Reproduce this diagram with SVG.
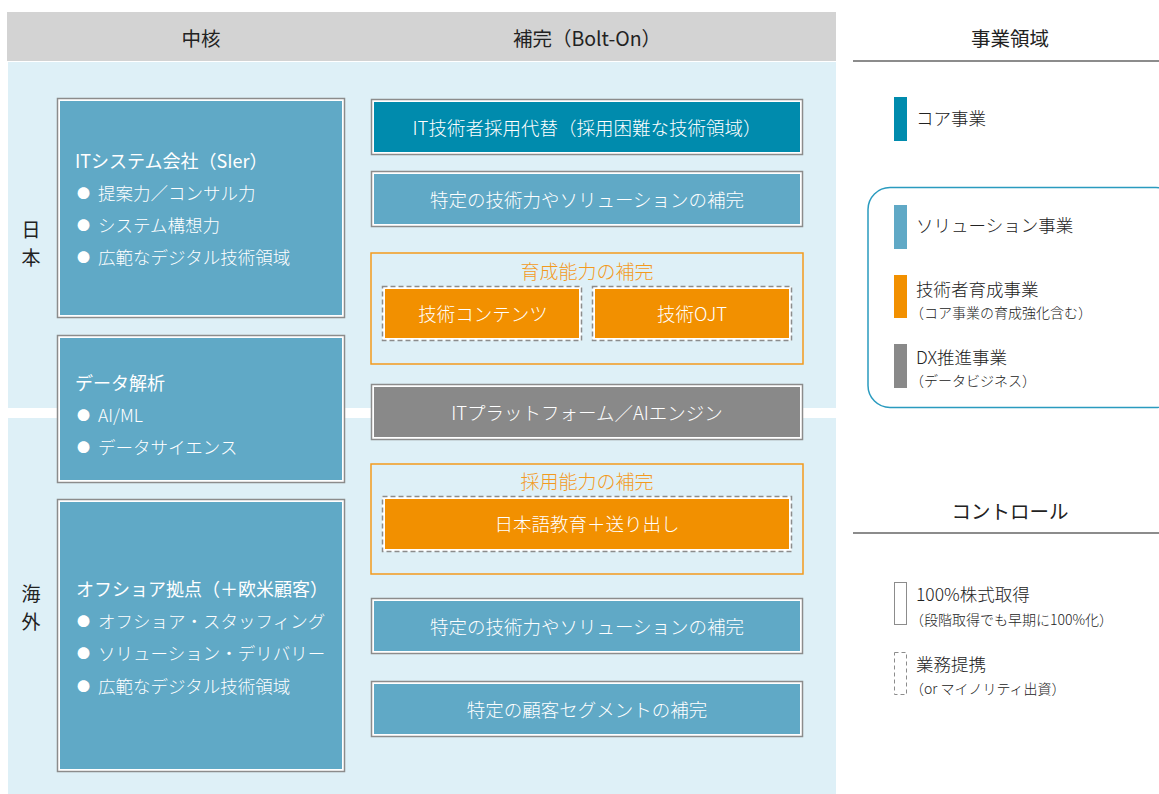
<svg xmlns="http://www.w3.org/2000/svg" width="1159" height="794" viewBox="0 0 1159 794">
<style>
text{font-family:"Noto Sans CJK JP","Noto Sans",sans-serif;dominant-baseline:central;font-weight:300}
.hd{font-size:19.5px;fill:#222;text-anchor:middle;font-weight:400}
.frame{fill:#fff;stroke:#8c8c8c;stroke-width:1.5}
.dframe{fill:#fff;stroke:#8c8c8c;stroke-width:1.5;stroke-dasharray:5 3}
.core{fill:#008bad}
.sol{fill:#60a9c6}
.ora{fill:#f29000}
.gry{fill:#898989}
.bt{font-size:18.5px;fill:#fff;text-anchor:middle}
.lt{font-size:17.5px;fill:#fff}
.bu{font-size:13px}
.ltt{font-size:18px;fill:#fff;font-weight:400}
.grp{fill:none;stroke:#f39a1e;stroke-width:1.5}
.gt{font-size:19px;fill:#f39a1e;text-anchor:middle}
.side{font-size:19px;fill:#222;text-anchor:middle;font-weight:400}
.lg{font-size:17.5px;fill:#222}
.lgs{font-size:14px;fill:#222}
</style>
<rect x="0" y="0" width="1159" height="794" fill="#fff"/>
<!-- backgrounds -->
<rect x="7" y="12" width="829" height="49" fill="#d3d3d3"/>
<rect x="8" y="62" width="828" height="346" fill="#def0f7"/>
<rect x="8" y="418" width="828" height="376" fill="#def0f7"/>
<text class="hd" x="201" y="37">中核</text>
<text class="hd" x="587" y="37">補完（Bolt-On）</text>
<text class="side" x="31" y="228">日</text>
<text class="side" x="31" y="256">本</text>
<text class="side" x="31" y="592">海</text>
<text class="side" x="31" y="620">外</text>

<g id="node-sier">
<rect class="frame" x="57.5" y="98.5" width="287" height="219"/>
<rect class="sol" x="60" y="101" width="282" height="214"/>
<text class="ltt" x="75" y="160">ITシステム会社（SIer）</text>
<text class="lt" x="77" y="192"><tspan class="bu">●</tspan><tspan dx="8">提案力／コンサル力</tspan></text>
<text class="lt" x="77" y="224"><tspan class="bu">●</tspan><tspan dx="8">システム構想力</tspan></text>
<text class="lt" x="77" y="256"><tspan class="bu">●</tspan><tspan dx="8">広範なデジタル技術領域</tspan></text>
</g>
<g id="node-data">
<rect class="frame" x="57.5" y="335.5" width="287" height="147"/>
<rect class="sol" x="60" y="338" width="282" height="142"/>
<text class="ltt" x="75" y="382">データ解析</text>
<text class="lt" x="77" y="414"><tspan class="bu">●</tspan><tspan dx="8">AI/ML</tspan></text>
<text class="lt" x="77" y="446"><tspan class="bu">●</tspan><tspan dx="8">データサイエンス</tspan></text>
</g>
<g id="node-offshore">
<rect class="frame" x="57.5" y="499.5" width="287" height="272"/>
<rect class="sol" x="60" y="502" width="282" height="267"/>
<text class="ltt" x="76" y="588">オフショア拠点（＋欧米顧客）</text>
<text class="lt" x="77" y="620"><tspan class="bu">●</tspan><tspan dx="8">オフショア・スタッフィング</tspan></text>
<text class="lt" x="77" y="652"><tspan class="bu">●</tspan><tspan dx="8">ソリューション・デリバリー</tspan></text>
<text class="lt" x="77" y="685"><tspan class="bu">●</tspan><tspan dx="8">広範なデジタル技術領域</tspan></text>
</g>

<g id="node-it-hire">
<rect class="frame" x="371.5" y="99.5" width="431" height="55"/>
<rect class="core" x="374" y="102" width="426" height="50"/>
<text class="bt" x="587" y="127">IT技術者採用代替（採用困難な技術領域）</text>
</g>
<g id="node-sol1">
<rect class="frame" x="371.5" y="171.5" width="431" height="55"/>
<rect class="sol" x="374" y="174" width="426" height="50"/>
<text class="bt" x="587" y="199">特定の技術力やソリューションの補完</text>
</g>
<g id="node-ikusei">
<rect class="grp" x="371" y="253" width="432" height="111"/>
<text class="gt" x="587" y="270">育成能力の補完</text>
<rect class="dframe" x="382.5" y="286.5" width="199" height="54"/>
<rect class="ora" x="385" y="289" width="194" height="49"/>
<text class="bt" x="483" y="313">技術コンテンツ</text>
<rect class="dframe" x="592.5" y="286.5" width="199" height="54"/>
<rect class="ora" x="595" y="289" width="194" height="49"/>
<text class="bt" x="692" y="313">技術OJT</text>
</g>
<g id="node-platform">
<rect class="frame" x="371.5" y="384.5" width="431" height="55"/>
<rect class="gry" x="374" y="387" width="426" height="50"/>
<text class="bt" x="587" y="412">ITプラットフォーム／AIエンジン</text>
</g>
<g id="node-saiyo">
<rect class="grp" x="371" y="464" width="432" height="110"/>
<text class="gt" x="587" y="480">採用能力の補完</text>
<rect class="dframe" x="382.5" y="496.5" width="409" height="55"/>
<rect class="ora" x="385" y="499" width="404" height="50"/>
<text class="bt" x="587" y="523">日本語教育＋送り出し</text>
</g>
<g id="node-sol2">
<rect class="frame" x="371.5" y="598.5" width="431" height="55"/>
<rect class="sol" x="374" y="601" width="426" height="50"/>
<text class="bt" x="587" y="626">特定の技術力やソリューションの補完</text>
</g>
<g id="node-customer">
<rect class="frame" x="371.5" y="681.5" width="431" height="55"/>
<rect class="sol" x="374" y="684" width="426" height="50"/>
<text class="bt" x="587" y="709">特定の顧客セグメントの補完</text>
</g>

<g id="legend-business">
<text class="hd" x="1010" y="37">事業領域</text>
<line x1="853" y1="61" x2="1159" y2="61" stroke="#666" stroke-width="1.5"/>
<rect class="core" x="894" y="97" width="13" height="44"/>
<text class="lg" x="916" y="117">コア事業</text>
<rect x="868" y="187.5" width="310" height="220" rx="22" fill="none" stroke="#2a9bbf" stroke-width="1.5"/>
<rect class="sol" x="894" y="205" width="13" height="44"/>
<text class="lg" x="916" y="224">ソリューション事業</text>
<rect class="ora" x="894" y="275" width="13" height="43"/>
<text class="lg" x="916" y="288">技術者育成事業</text>
<text class="lgs" x="910" y="312">（コア事業の育成強化含む）</text>
<rect class="gry" x="894" y="344" width="13" height="44"/>
<text class="lg" x="916" y="356">DX推進事業</text>
<text class="lgs" x="910" y="380">（データビジネス）</text>
</g>
<g id="legend-control">
<text class="hd" x="1010" y="510">コントロール</text>
<line x1="853" y1="533" x2="1159" y2="533" stroke="#666" stroke-width="1.5"/>
<rect x="894.5" y="582.5" width="12" height="42" fill="none" stroke="#8c8c8c" stroke-width="1"/>
<text class="lg" x="916" y="593">100%株式取得</text>
<text class="lgs" x="910" y="619">（段階取得でも早期に100%化）</text>
<rect x="894.5" y="652.5" width="12" height="42" fill="none" stroke="#8c8c8c" stroke-width="1" stroke-dasharray="4 3"/>
<text class="lg" x="916" y="663">業務提携</text>
<text class="lgs" x="910" y="688">（or マイノリティ出資）</text>
</g>
<g id="connectors"></g>
</svg>
